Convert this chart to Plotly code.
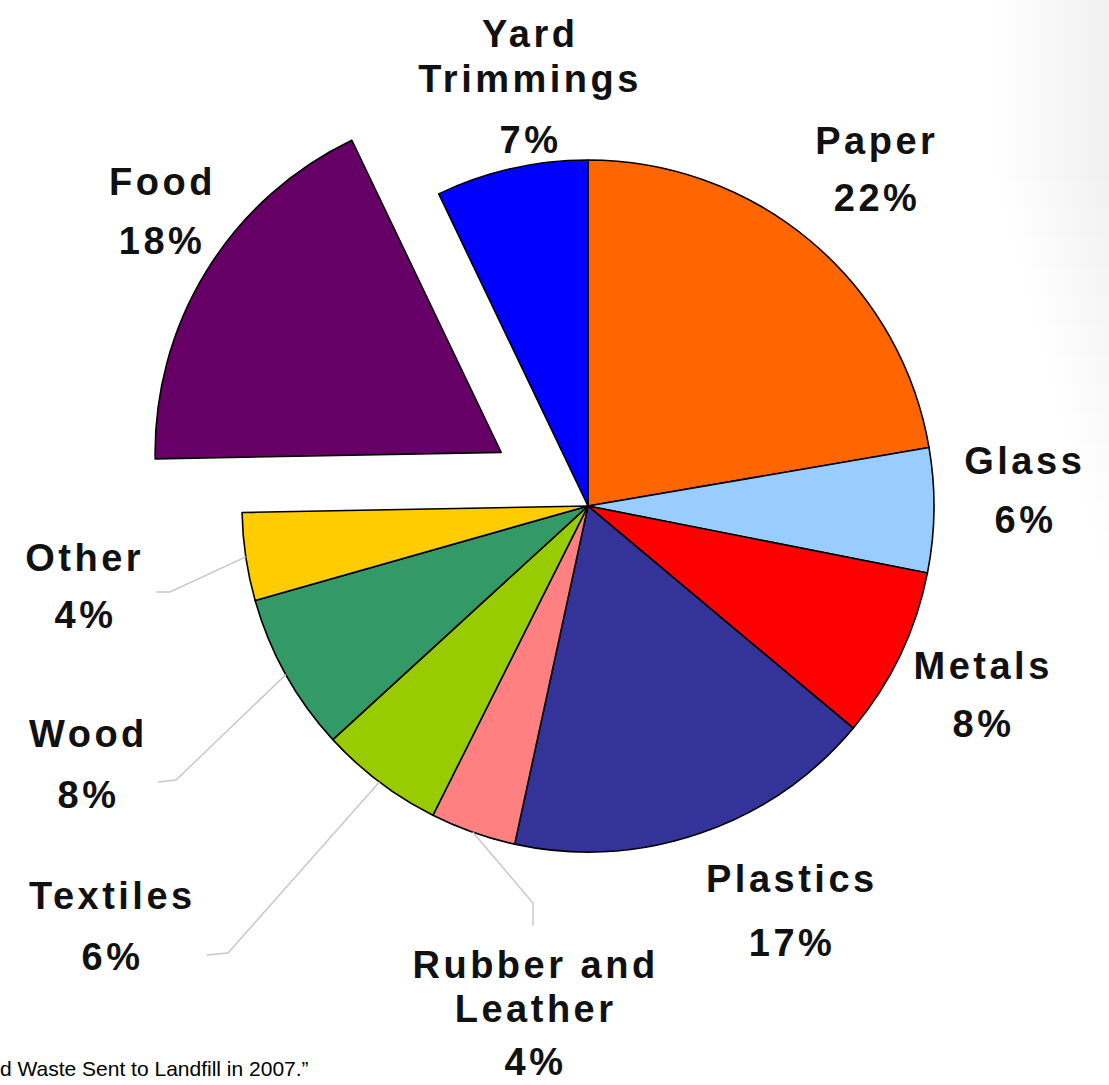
import math
import plotly.graph_objects as go

# ---- data ----
categories = ["Paper", "Glass", "Metals", "Plastics", "Rubber and Leather",
              "Textiles", "Wood", "Other", "Food", "Yard Trimmings"]
shares = [22.3, 5.8, 8.0, 17.3, 4.0, 5.8, 7.4, 4.1, 18.2, 7.1]
shown_pct = [22, 6, 8, 17, 4, 6, 8, 4, 18, 7]
label_lines = [["Paper"], ["Glass"], ["Metals"], ["Plastics"], ["Rubber and", "Leather"],
               ["Textiles"], ["Wood"], ["Other"], ["Food"], ["Yard", "Trimmings"]]
colors = ["#FF6600", "#99CCFF", "#FF0000", "#333399", "#FF8080",
          "#99CC00", "#339966", "#FFCC00", "#660066", "#0000FF"]
pulls = [0, 0, 0, 0, 0, 0, 0, 0, 0.295, 0]
caption = "d Waste Sent to Landfill in 2007.\u201d"

# ---- layout (pixels) ----
W, H = 1109, 1085
CX, CY, R = 588, 506, 346
box = 2 * R * (1 + max(pulls))

# label text centres: (x, [y of each name line], y of percent line)
label_pos = {
    "Paper": (877, [141], 198),
    "Glass": (1025, [461], 520),
    "Metals": (983, [666], 724),
    "Plastics": (792, [879], 943),
    "Rubber and Leather": (535, [965, 1009], 1062),
    "Textiles": (112, [896], 957),
    "Wood": (88, [734], 795),
    "Other": (85, [558], 615),
    "Food": (162, [182], 241),
    "Yard Trimmings": (530, [34, 79], 140),
}
# leader lines: elbow and end points (pixels)
leaders = {
    "Other": [(170, 592), (156, 592)],
    "Wood": [(176, 780), (158, 782)],
    "Textiles": [(228, 953), (207, 955)],
    "Rubber and Leather": [(533, 903), (533, 926)],
}

def px(x):
    return x / W

def py(y):
    return 1 - y / H

fig = go.Figure(go.Pie(
    labels=categories,
    values=shares,
    sort=False,
    direction="clockwise",
    rotation=0,
    pull=pulls,
    textinfo="none",
    hoverinfo="label+percent",
    marker=dict(colors=colors, line=dict(color="#000000", width=1.6)),
    domain=dict(x=[px(CX - box / 2), px(CX + box / 2)],
                y=[py(CY + box / 2), py(CY - box / 2)]),
    showlegend=False,
))

font = dict(family="Liberation Sans, Arial, sans-serif", size=38, color="#111111", weight="bold")
ann = []
for cat, lines, pct in zip(categories, label_lines, shown_pct):
    x, ys, yp = label_pos[cat]
    for line, y in zip(lines, ys):
        ann.append(dict(x=px(x), y=py(y), xref="paper", yref="paper", text=line,
                        showarrow=False, xanchor="center", yanchor="middle", font=font))
    ann.append(dict(x=px(x), y=py(yp), xref="paper", yref="paper", text=f"{pct}%",
                    showarrow=False, xanchor="center", yanchor="middle", font=font))

ann.append(dict(x=px(-2), y=py(1068), xref="paper", yref="paper", text=caption,
                showarrow=False, xanchor="left", yanchor="middle",
                font=dict(family="Liberation Sans, Arial, sans-serif", size=21, color="#000000")))

shapes = []
# very faint grey shading along the right edge (many thin steps for a soft fade)
steps = 14
for i in range(steps):
    f = i / (steps - 1)
    x0 = 995 + f * 105
    y1 = 180 + f * 380
    shapes.append(dict(type="rect", xref="paper", yref="paper", layer="below",
                       x0=px(x0), x1=1, y0=py(y1), y1=1,
                       line=dict(width=0), fillcolor="rgba(0,0,0,0.0045)"))

# leader lines start on the arc at each slice's mid angle
total = sum(shares)
cum = 0
for cat, v in zip(categories, shares):
    mid = (cum + v / 2) / total * 2 * math.pi
    cum += v
    if cat in leaders:
        sx = CX + R * math.sin(mid)
        sy = CY - R * math.cos(mid)
        pts = [(sx, sy)] + leaders[cat]
        path = "M " + " L ".join(f"{px(a):.5f},{py(b):.5f}" for a, b in pts)
        shapes.append(dict(type="path", path=path, xref="paper", yref="paper",
                           line=dict(color="#C8C8C8", width=1.5)))

fig.update_layout(
    width=W, height=H,
    margin=dict(l=0, r=0, t=0, b=0),
    paper_bgcolor="rgba(255,255,255,0)",
    plot_bgcolor="rgba(255,255,255,0)",
    annotations=ann,
    shapes=shapes,
)

post = """
document.body.style.margin = '0';
document.body.style.background = '#ffffff';
document.querySelectorAll('.annotation-text').forEach(function (t) {
  if (t.textContent.indexOf('Landfill') < 0) { t.style.letterSpacing = '3.5px'; }
});
"""

fig.write_html("out.html", post_script=post, config={"displayModeBar": False})
